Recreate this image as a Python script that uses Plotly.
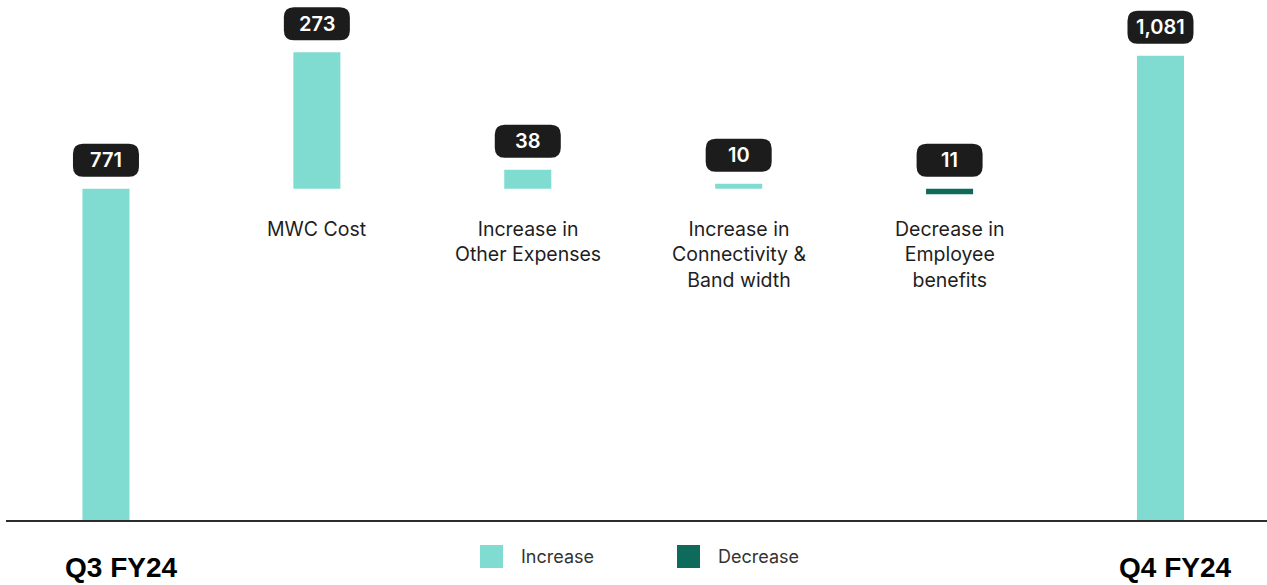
import plotly.graph_objects as go

# ---------------- data ----------------
categories = [
    "Q3 FY24",
    "MWC Cost",
    "Increase in<br>Other Expenses",
    "Increase in<br>Connectivity &<br>Band width",
    "Decrease in<br>Employee<br>benefits",
    "Q4 FY24",
]
start_value = 771
changes = [273, 38, 10, -11]
end_value = 1081
value_labels = ["771", "273", "38", "10", "11", "1,081"]
legend_labels = ["Increase", "Decrease"]

# ---------------- style ----------------
INC = "#80dbd1"
DEC = "#0e6b5c"
BOX = "#1c1c1c"
FONT = "Inter, Roboto, sans-serif"
W, H = 1267, 585
M_L, M_R, M_T, M_B = 6, 0, 0, 65
plot_w = W - M_L - M_R
plot_h = H - M_T - M_B
main_scale = 0.4295  # px per unit for totals
delta_scale = 0.5    # px per unit for changes
bar_w = 0.223

y_max = plot_h / main_scale
base_px = start_value * main_scale
y2_lo = start_value - base_px / delta_scale
y2_hi = start_value + (plot_h - base_px) / delta_scale

fig = go.Figure()
fig.add_trace(go.Bar(
    x=[categories[0], categories[-1]], y=[start_value, end_value],
    marker=dict(color=INC, line_width=0), width=bar_w, yaxis="y",
    showlegend=False, hoverinfo="skip"))
fig.add_trace(go.Bar(
    x=categories[1:-1], y=changes, base=start_value,
    marker=dict(color=[INC if c > 0 else DEC for c in changes], line_width=0),
    width=bar_w, yaxis="y2", showlegend=False, hoverinfo="skip"))


def rrect(x0, y0, x1, y1, r):
    return (f"M{x0+r},{y0} L{x1-r},{y0} Q{x1},{y0} {x1},{y0+r} "
            f"L{x1},{y1-r} Q{x1},{y1} {x1-r},{y1} L{x0+r},{y1} "
            f"Q{x0},{y1} {x0},{y1-r} L{x0},{y0+r} Q{x0},{y0} {x0+r},{y0} Z")


shapes = []
annotations = []
anchors = [("y", start_value)]
for c in changes:
    anchors.append(("y2", start_value + max(c, 0)))
anchors.append(("y", end_value))

for cat, (yr, val), lab in zip(categories, anchors, value_labels):
    shapes.append(dict(type="path", xref="x", yref=yr, xsizemode="pixel",
                       ysizemode="pixel", xanchor=cat, yanchor=val,
                       path=rrect(-33, 12, 33, 45, 10), fillcolor=BOX,
                       line=dict(width=0), layer="above"))
    annotations.append(dict(x=cat, y=val, xref="x", yref=yr, text=lab,
                            showarrow=False, yshift=28.5, yanchor="middle",
                            font=dict(family=FONT, size=20, color="white",
                                      weight=600)))

# change labels beneath the bars
for cat in categories[1:-1]:
    annotations.append(dict(x=cat, y=start_value, xref="x", yref="y2",
                            text=cat, showarrow=False, yanchor="top",
                            yshift=-26, align="center",
                            font=dict(family=FONT, size=19.5, color="#1e1e1e")))

# period labels under the axis
for cat in (categories[0], categories[-1]):
    annotations.append(dict(x=cat, y=0, xref="x", yref="paper", text=cat,
                            showarrow=False, yanchor="middle", yshift=-47,
                            xshift=15,
                            font=dict(family="Liberation Sans, Arial",
                                      size=28, color="#000000", weight="bold")))

# custom legend
def px_x(p):
    return (p - M_L) / plot_w


def px_y(p):
    return (M_T + plot_h - p) / plot_h


for lab, col, sx in zip(legend_labels, [INC, DEC], [480, 677]):
    shapes.append(dict(type="rect", xref="paper", yref="paper",
                       x0=px_x(sx), x1=px_x(sx + 23), y0=px_y(568), y1=px_y(545),
                       fillcolor=col, line=dict(width=0)))
    annotations.append(dict(x=px_x(sx + 39), y=px_y(556.5), xref="paper",
                            yref="paper", text=lab, showarrow=False,
                            xanchor="left", yanchor="middle",
                            font=dict(family=FONT, size=18, color="#333333")))

fig.update_layout(
    width=W, height=H, autosize=False,
    margin=dict(l=M_L, r=M_R, t=M_T, b=M_B, pad=0),
    paper_bgcolor="white", plot_bgcolor="white",
    barmode="overlay", showlegend=False,
    xaxis=dict(type="category", categoryorder="array", categoryarray=categories,
               range=[-0.474, 5.505], showticklabels=False, ticks="",
               showgrid=False, zeroline=False, showline=True,
               linecolor="#2d2d2d", linewidth=2, fixedrange=True),
    yaxis=dict(range=[0, y_max], visible=False, fixedrange=True),
    yaxis2=dict(range=[y2_lo, y2_hi], overlaying="y", visible=False,
                fixedrange=True),
    shapes=shapes, annotations=annotations,
)

fig.write_html(
    "out.html",
    config={"displayModeBar": False},
    post_script="document.body.style.margin='0';document.body.style.overflow='hidden';",
)
